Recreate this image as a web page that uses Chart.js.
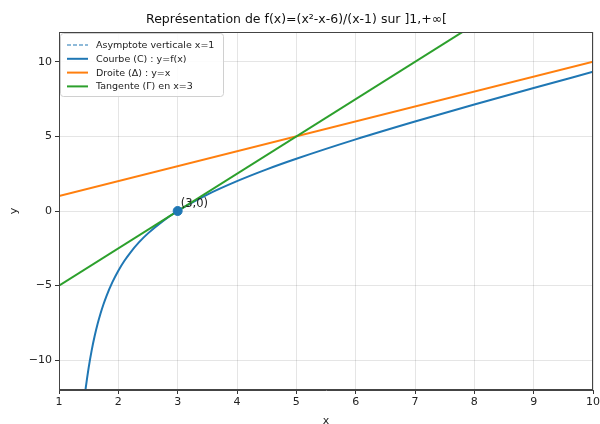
<!DOCTYPE html>
<html>
<head>
<meta charset="utf-8">
<script src="https://cdn.jsdelivr.net/npm/chart.js@4.4.1/dist/chart.umd.min.js"></script>
<style>
  html, body { margin: 0; padding: 0; background: #fff; }
  #wrap { width: 600px; height: 424px; }
</style>
</head>
<body>
<div id="wrap"><canvas id="fnChart" width="600" height="424"></canvas></div>
<script>
// values
var curveX = [1.44, 1.45, 1.5, 1.55, 1.6, 1.65, 1.7, 1.75, 1.8, 1.9, 2, 2.1, 2.2, 2.35, 2.5, 2.75, 3, 3.5, 4, 4.5, 5, 6, 7, 8, 9, 10];
var curveY = [-12.2, -11.88, -10.5, -9.36, -8.4, -7.58, -6.87, -6.25, -5.7, -4.77, -4, -3.35, -2.8, -2.09, -1.5, -0.68, 0, 1.1, 2, 2.79, 3.5, 4.8, 6, 7.14, 8.25, 9.33];
var droiteX = [1, 10];
var droiteY = [1, 10];
var tangenteX = [1, 10];
var tangenteY = [-5, 17.5];
var asymX = [1, 1];
var asymY = [-12, 12];
var pointX = [3];
var pointY = [0];
var xTicks = [1, 2, 3, 4, 5, 6, 7, 8, 9, 10];
var yTicks = [-10, -5, 0, 5, 10];
var legendLabels = ['Asymptote verticale x=1', 'Courbe (C) : y=f(x)', 'Droite (\u0394) : y=x', 'Tangente (\u0393) en x=3'];

function pairs(xs, ys) {
    return xs.map(function(x, i) { return { x: x, y: ys[i] }; });
}

var FONT = "'DejaVu Sans', sans-serif";
var BLUE = '#1f77b4', ORANGE = '#ff7f0e', GREEN = '#2ca02c';

// frame, legend box and point label
var overlay = {
    id: 'overlay',
    afterDraw: function(chart) {
        var c = chart.ctx, a = chart.chartArea;
        c.save();
        // frame (top / right spines)
        c.strokeStyle = '#444';
        c.lineWidth = 1;
        c.strokeRect(Math.round(a.left) + 0.5, Math.round(a.top) + 0.5,
            Math.round(a.right - a.left) - 1, Math.round(a.bottom - a.top) - 1);

        // label of the point
        var px = chart.scales.x.getPixelForValue(pointX[0]);
        var py = chart.scales.y.getPixelForValue(pointY[0]);
        c.fillStyle = '#222';
        c.font = '11.5px ' + FONT;
        c.textBaseline = 'alphabetic';
        c.fillText('(' + pointX[0] + ',' + pointY[0] + ')', px + 3, py - 4);

        // legend
        var lx = a.left + 1, ly = a.top + 1, lw = 163, lh = 63;
        c.beginPath();
        c.roundRect(lx + 0.5, ly + 0.5, lw, lh, 3);
        c.fillStyle = 'rgba(255,255,255,0.85)';
        c.fill();
        c.strokeStyle = '#d0d0d0';
        c.stroke();
        var cols = [BLUE, BLUE, ORANGE, GREEN];
        c.font = '9.5px ' + FONT;
        c.textBaseline = 'middle';
        for (var i = 0; i < legendLabels.length; i++) {
            var ry = ly + 12 + i * 13.8;
            c.beginPath();
            c.strokeStyle = cols[i];
            c.lineWidth = i === 0 ? 1.2 : 2;
            c.setLineDash(i === 0 ? [4, 2] : []);
            c.moveTo(lx + 7, ry);
            c.lineTo(lx + 28, ry);
            c.stroke();
            c.setLineDash([]);
            c.fillStyle = '#222';
            c.fillText(legendLabels[i], lx + 36, ry + 0.5);
        }
        c.restore();
    }
};

var ctx = document.getElementById('fnChart').getContext('2d');
new Chart(ctx, {
    type: 'scatter',
    data: {
        datasets: [{
            label: legendLabels[0],
            data: pairs(asymX, asymY),
            showLine: true,
            borderColor: BLUE,
            borderWidth: 1,
            borderDash: [4, 2],
            pointRadius: 0,
            clip: 0,
            order: 5
        }, {
            label: legendLabels[1],
            data: pairs(curveX, curveY),
            showLine: true,
            borderColor: BLUE,
            borderWidth: 2,
            pointRadius: 0,
            cubicInterpolationMode: 'monotone',
            clip: 0,
            order: 4
        }, {
            label: legendLabels[2],
            data: pairs(droiteX, droiteY),
            showLine: true,
            borderColor: ORANGE,
            borderWidth: 2,
            pointRadius: 0,
            clip: 0,
            order: 3
        }, {
            label: legendLabels[3],
            data: pairs(tangenteX, tangenteY),
            showLine: true,
            borderColor: GREEN,
            borderWidth: 2,
            pointRadius: 0,
            clip: 0,
            order: 2
        }, {
            label: 'A',
            data: pairs(pointX, pointY),
            showLine: false,
            backgroundColor: BLUE,
            borderColor: BLUE,
            pointRadius: 4.5,
            order: 1
        }]
    },
    options: {
        responsive: false,
        animation: false,
        layout: {
            padding: { left: 0, right: 7, top: 0, bottom: 0 }
        },
        scales: {
            x: {
                type: 'linear',
                min: 1,
                max: 10,
                afterBuildTicks: function(scale) {
                    scale.ticks = xTicks.map(function(v) { return { value: v }; });
                },
                afterFit: function(scale) {
                    scale.height = 34;
                    scale.paddingRight = 0;
                    scale.paddingLeft = 0;
                },
                grid: {
                    color: 'rgba(0,0,0,0.1)',
                    tickColor: '#333',
                    tickLength: 4
                },
                border: { color: '#444', width: 1 },
                ticks: {
                    color: '#222',
                    padding: 2,
                    maxRotation: 0,
                    font: { size: 11, family: FONT }
                },
                title: {
                    display: true,
                    text: 'x',
                    color: '#222',
                    padding: { top: 2, bottom: -4 },
                    font: { size: 11, family: FONT }
                }
            },
            y: {
                type: 'linear',
                min: -12,
                max: 12,
                afterBuildTicks: function(scale) {
                    scale.ticks = yTicks.map(function(v) { return { value: v }; });
                },
                afterFit: function(scale) { scale.width = 59; },
                grid: {
                    color: 'rgba(0,0,0,0.1)',
                    tickColor: '#333',
                    tickLength: 4
                },
                border: { color: '#444', width: 1 },
                ticks: {
                    color: '#222',
                    padding: 3,
                    font: { size: 11, family: FONT },
                    callback: function(v) { return String(v).replace('-', '\u2212'); }
                },
                title: {
                    display: true,
                    text: 'y',
                    color: '#222',
                    padding: { top: 8, bottom: 0 },
                    font: { size: 11, family: FONT }
                }
            }
        },
        plugins: {
            legend: { display: false },
            tooltip: { enabled: false },
            title: {
                display: true,
                text: 'Repr\u00e9sentation de f(x)=(x\u00b2-x-6)/(x-1) sur ]1,+\u221e[',
                color: '#111',
                font: { size: 12.5, weight: 'normal', family: FONT },
                padding: { top: 12, bottom: 5 }
            }
        }
    },
    plugins: [overlay]
});
</script>
</body>
</html>
